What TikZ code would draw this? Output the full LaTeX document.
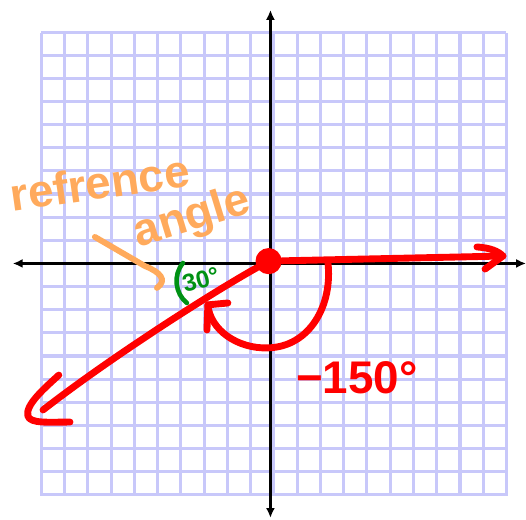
\documentclass[tikz,border=0pt]{standalone}
\usepackage{fontspec}
\setmainfont{Liberation Sans}
\usetikzlibrary{arrows.meta}
\definecolor{gridlav}{RGB}{200,200,250}
\definecolor{penorange}{RGB}{255,170,92}
\definecolor{pengreen}{RGB}{0,145,20}
\begin{document}
\begin{tikzpicture}[scale=0.5,
  gridline/.style={gridlav, line width=1.9pt},
  axisline/.style={{Latex[length=6pt,width=5.5pt]}-{Latex[length=6pt,width=5.5pt]}, line width=2.2pt},
  redpen/.style={red, line width=4.2pt, line cap=round, line join=round},
  orangepen/.style={penorange, line width=3.6pt, line cap=round},
  greenpen/.style={pengreen, line width=2.8pt, line cap=round},
  reddot/.style={circle, fill=red, inner sep=0pt, minimum size=16pt},
  penlabel/.style={anchor=base, inner sep=0pt, font=\bfseries\fontsize{28}{28}\selectfont}]
  \useasboundingbox (-11.63,-11.03) rectangle (10.99,11.33);
  % grid paper
  \foreach \i in {-10,...,10} {
    \draw[gridline] ({\i+0.15},-10) -- ({\i+0.15},9.9);
    \draw[gridline] (-9.85,{\i-0.005*\i}) -- (10.15,{\i-0.005*\i});
  }
  % axes
  \coordinate (xmin) at (-11.08,0);
  \coordinate (xmax) at (10.99,0);
  \coordinate (ymin) at (0,-10.94);
  \coordinate (ymax) at (0,10.9);
  \draw[axisline] (xmin) -- (xmax);
  \draw[axisline] (ymin) -- (ymax);
  % the -150 degree angle
  \node[reddot] (vertex) at (-0.08,0.1) {};
  \coordinate (initialtip) at (10.0,0.32);
  \coordinate (terminaltip) at (-9.78,-6.3);
  \draw[redpen] (vertex) -- (initialtip);
  \draw[redpen] (8.88,0.71) .. controls (9.44,0.67) and (9.78,0.54) .. (initialtip) -- (9.23,-0.24);
  \draw[redpen] (vertex) .. controls (-2.6,-1.31) and (-6.9,-4.06) .. (terminaltip);
  \draw[redpen] (-9.1,-4.8) .. controls (-9.7,-5.35) and (-10.56,-6.09) .. (-10.43,-6.56)
    .. controls (-10.34,-6.9) and (-9.48,-6.82) .. (-8.62,-6.82);
  \coordinate (arcstart) at (2.47,0.06);
  \coordinate (arctip) at (-2.69,-1.78);
  \draw[redpen] (arcstart) .. controls (2.69,-1.78) and (1.70,-3.59) .. (-0.11,-3.63)
    .. controls (-1.4,-3.68) and (-2.6,-2.86) .. (arctip);
  \draw[redpen] (-1.83,-1.7) -- (arctip) -- (-2.73,-2.86);
  \node[penlabel, text=red] (negangle) at (3.72,-5.58) {−150°};
  % reference angle
  \node[penlabel, text=penorange, rotate=8] (reflabel) at (-7.25,2.78) {refrence};
  \node[penlabel, text=penorange, rotate=17] (anglelabel) at (-3.2,1.45) {angle};
  \coordinate (ptrstart) at (-7.55,1.14);
  \coordinate (ptrend) at (-4.88,-1.05);
  \draw[orangepen] (ptrstart) -- (-5.4,-0.11) .. controls (-4.75,-0.37) and (-4.41,-0.71) .. (ptrend);
  \draw[greenpen] (-3.76,0.02) .. controls (-4.2,-0.5) and (-4.1,-1.3) .. (-3.59,-1.7);
  \node[penlabel, text=pengreen, rotate=15, font=\bfseries\fontsize{15}{15}\selectfont] (reflangle) at (-2.9,-1.05) {30°};
\end{tikzpicture}
\end{document}
